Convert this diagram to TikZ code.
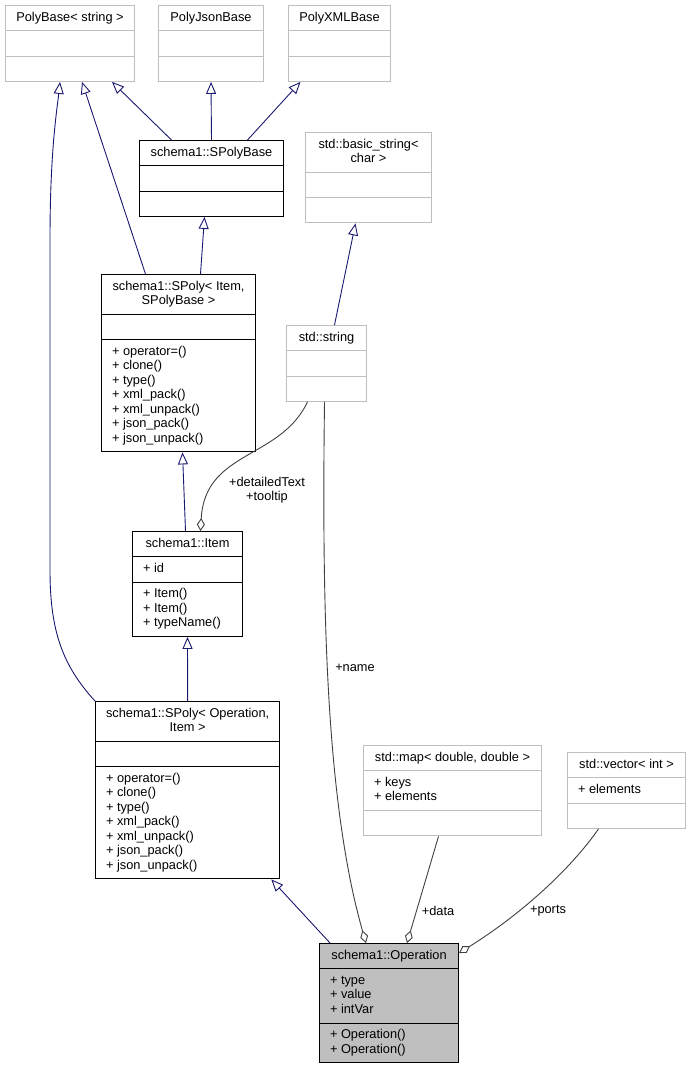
\documentclass[tikz,border=0pt]{standalone}
\usepackage{fontspec}
\setmainfont{Liberation Sans}
\usetikzlibrary{shapes.multipart,arrows.meta}
\definecolor{inherit}{HTML}{191970}
\definecolor{member}{HTML}{404040}
\definecolor{undoc}{HTML}{BFBFBF}
\tikzset{
  cls/.style={rectangle split, rectangle split parts=3,
  rectangle split part align={center,left,left}, draw=black, line width=1pt,
  inner xsep=10.5pt, inner ysep=4.9pt, anchor=north west,
  font=\fontsize{12.8}{14.5}\selectfont},
  extcls/.style={cls, draw=undoc},
  focus/.style={cls, fill=undoc},
  isa/.style={draw=inherit, line width=0.9pt, -{Triangle[open, length=12pt, width=10pt, fill=white]}},
  has/.style={draw=member, line width=0.9pt, -{Diamond[open, length=13pt, width=8pt, fill=white]}},
  role/.style={font=\fontsize{12.8}{14.5}\selectfont, align=center, inner sep=0pt},
}
\newcommand{\hdr}[1]{\begin{tabular}{@{}c@{}}#1\end{tabular}}
\newcommand{\mbr}[1]{\begin{tabular}{@{}l@{}}#1\end{tabular}}
\newcommand{\none}{\mbr{\strut}}

\begin{document}
\begin{tikzpicture}[x=1pt, y=-1pt]
\useasboundingbox (0,0) rectangle (691,1069);

% Base classes
\node[extcls, minimum width=129pt] (polybase) at (5,5)
  {\hdr{PolyBase< string >} \nodepart{two} \none \nodepart{three} \none};
\node[extcls, minimum width=105pt] (polyjson) at (158,5)
  {\hdr{PolyJsonBase} \nodepart{two} \none \nodepart{three} \none};
\node[extcls, minimum width=102pt] (polyxml) at (288,5)
  {\hdr{PolyXMLBase} \nodepart{two} \none \nodepart{three} \none};
\node[cls, minimum width=144pt] (spolybase) at (139,140)
  {\hdr{schema1::SPolyBase} \nodepart{two} \none \nodepart{three} \none};
\node[extcls, minimum width=126pt] (basicstring) at (305,132)
  {\hdr{std::basic\_string<\\char >} \nodepart{two} \none \nodepart{three} \none};

% Item hierarchy
\node[cls, minimum width=154pt] (spolyitem) at (101,274)
  {\hdr{schema1::SPoly< Item,\\SPolyBase >} \nodepart{two} \none
   \nodepart{three} \mbr{+ operator=()\\+ clone()\\+ type()\\+ xml\_pack()\\+ xml\_unpack()\\+ json\_pack()\\+ json\_unpack()}};
\node[extcls, minimum width=80pt] (stdstring) at (286,325)
  {\hdr{std::string} \nodepart{two} \none \nodepart{three} \none};
\node[cls, minimum width=110pt] (item) at (132,531)
  {\hdr{schema1::Item} \nodepart{two} \mbr{+ id}
   \nodepart{three} \mbr{+ Item()\\+ Item()\\+ typeName()}};
\node[cls, minimum width=184pt] (spolyop) at (95,701)
  {\hdr{schema1::SPoly< Operation,\\Item >} \nodepart{two} \none
   \nodepart{three} \mbr{+ operator=()\\+ clone()\\+ type()\\+ xml\_pack()\\+ xml\_unpack()\\+ json\_pack()\\+ json\_unpack()}};

% Containers
\node[extcls, minimum width=178pt] (stdmap) at (363,745)
  {\hdr{std::map< double, double >} \nodepart{two} \mbr{+ keys\\+ elements} \nodepart{three} \none};
\node[extcls, minimum width=118pt] (stdvector) at (567,752)
  {\hdr{std::vector< int >} \nodepart{two} \mbr{+ elements} \nodepart{three} \none};

% The class itself
\node[focus, minimum width=139pt] (operation) at (319,943)
  {\hdr{schema1::Operation} \nodepart{two} \mbr{+ type\\+ value\\+ intVar}
   \nodepart{three} \mbr{+ Operation()\\+ Operation()}};

% Inheritance
\draw[isa] ([xshift=-40pt]spolybase.north) -- ([xshift=42pt]polybase.south);
\draw[isa] (spolybase.north) -- (polyjson.south);
\draw[isa] ([xshift=36pt]spolybase.north) -- ([xshift=-39pt]polyxml.south);
\draw[isa] ([xshift=-33pt]spolyitem.north) -- ([xshift=12pt]polybase.south);
\draw[isa] ([xshift=22pt]spolyitem.north) -- ([xshift=-7pt]spolybase.south);
\draw[isa] ([xshift=-2pt]item.north) -- ([xshift=4pt]spolyitem.south);
\draw[isa] (spolyop.north west) .. controls (62,665) and (50,630) .. (50,570)
  -- (50,240) .. controls (50,150) and (57,110) .. ([xshift=-10pt]polybase.south);
\draw[isa] (spolyop.north) -- (item.south);
\draw[isa] ([xshift=11pt]operation.north west) -- ([xshift=-9pt]spolyop.south east);
\draw[isa] ([xshift=8pt]stdstring.north) -- ([xshift=-13pt]basicstring.south);

% Members
\draw[has] ([xshift=-19pt]stdstring.south) .. controls (280,460) and (205,450) .. ([xshift=13pt]item.north);
\draw[has] ([xshift=-2pt]stdstring.south) .. controls (322,600) and (325,800) .. ([xshift=-23pt]operation.north);
\draw[has] ([xshift=-14pt]stdmap.south) -- ([xshift=18pt]operation.north);
\draw[has] ([xshift=-28pt]stdvector.south) .. controls (570,870) and (520,915) .. ([yshift=-10pt]operation.north east);

% Member names
\node[role] (lbltext) at (267,490) {+detailedText\\+tooltip};
\node[role] (lblname) at (355,668) {+name};
\node[role] (lbldata) at (438,911) {+data};
\node[role] (lblports) at (548,911) {+ports};

\end{tikzpicture}
\end{document}
